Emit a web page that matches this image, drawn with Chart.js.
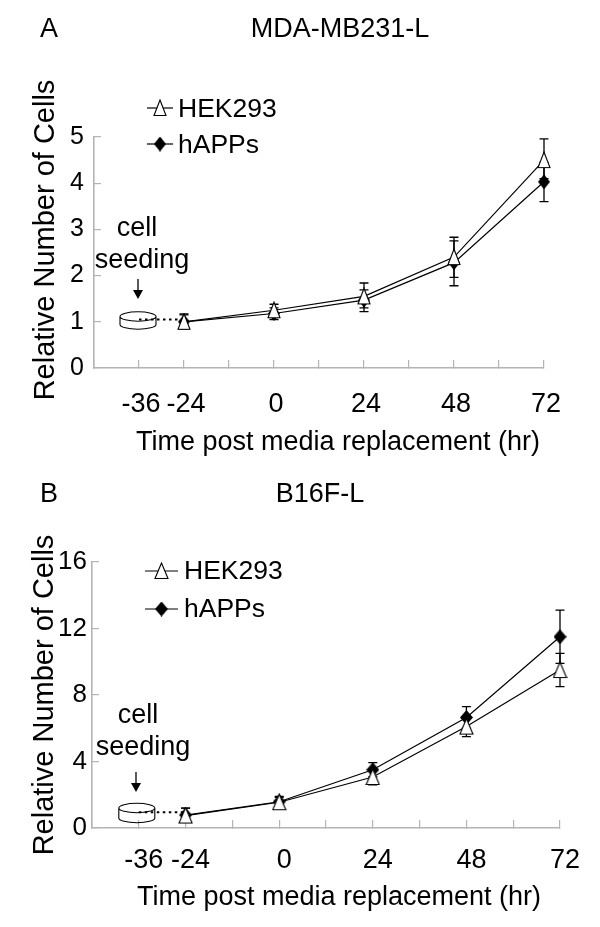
<!DOCTYPE html>
<html>
<head>
<meta charset="utf-8">
<title>Relative number of cells</title>
<script src="https://cdn.jsdelivr.net/npm/chart.js@4"></script>
<style>
  html, body { margin: 0; padding: 0; background: #fff; }
  canvas { position: absolute; left: 0; top: 0; }
</style>
</head>
<body>
<canvas id="chartA" width="600" height="927"></canvas>
<canvas id="chartB" width="600" height="927"></canvas>
<script>
const hours = [-24, 0, 24, 48, 72];
const seedHours = [-36, -24];
const xLabels = [-36, -24, 0, 24, 48, 72];

// Panel A
const hekA = [1.0, 1.25, 1.55, 2.4, 4.5];
const hekAHi = [1.17, 1.38, 1.84, 2.83, 4.96];
const hekALo = [0.85, 1.1, 1.3, 1.96, 4.1];
const happsA = [1.0, 1.18, 1.47, 2.28, 4.03];
const happsAHi = [1.15, 1.3, 1.69, 2.75, 4.45];
const happsALo = [0.87, 1.05, 1.22, 1.78, 3.6];
const seedA = [1.05, 1.05];

// Panel B
const hekB = [0.75, 1.55, 3.07, 6.1, 9.5];
const hekBHi = [1.2, 1.9, 3.55, 6.7, 10.5];
const hekBLo = [0.5, 1.25, 2.6, 5.5, 8.5];
const happsB = [0.78, 1.58, 3.5, 6.65, 11.5];
const happsBHi = [1.2, 1.85, 3.93, 7.3, 13.1];
const happsBLo = [0.5, 1.3, 3.07, 6.0, 9.9];
const seedB = [0.95, 0.95];

const FONT = '"Liberation Sans", Arial, sans-serif';

function triangleMark(w, h) {
  const c = document.createElement('canvas');
  c.width = w + 2; c.height = h + 2;
  const g = c.getContext('2d');
  g.beginPath();
  g.moveTo(c.width / 2, 1);
  g.lineTo(c.width - 1, h + 0.5);
  g.lineTo(1, h + 0.5);
  g.closePath();
  g.fillStyle = '#fff';
  g.fill();
  g.strokeStyle = '#000';
  g.lineWidth = 1.1;
  g.stroke();
  return c;
}

function diamondMark(w, h) {
  const c = document.createElement('canvas');
  c.width = w; c.height = h;
  const g = c.getContext('2d');
  g.beginPath();
  g.moveTo(w / 2, 0);
  g.lineTo(w, h / 2);
  g.lineTo(w / 2, h);
  g.lineTo(0, h / 2);
  g.closePath();
  g.fillStyle = '#000';
  g.fill();
  return c;
}

function toPoints(xs, ys) {
  return xs.map(function (x, i) { return { x: x, y: ys[i] }; });
}

// error bars are read from the arrays and placed with the chart scales
const errorBars = {
  id: 'errorBars',
  beforeDatasetsDraw(chart, args, opts) {
    const g = chart.ctx;
    g.save();
    g.strokeStyle = '#000';
    g.lineWidth = 1.3;
    opts.bars.forEach(function (bar) {
      hours.forEach(function (h, i) {
        const x = chart.scales.x.getPixelForValue(h);
        const top = chart.scales.y.getPixelForValue(bar.hi[i]);
        const bot = chart.scales.y.getPixelForValue(bar.lo[i]);
        g.beginPath();
        g.moveTo(x, top); g.lineTo(x, bot);
        g.moveTo(x - 4.5, top); g.lineTo(x + 4.5, top);
        g.moveTo(x - 4.5, bot); g.lineTo(x + 4.5, bot);
        g.stroke();
      });
    });
    g.restore();
  }
};

// dish, arrow, legend and the free text of each panel
const annotations = {
  id: 'annotations',
  afterDraw(chart, args, o) {
    const g = chart.ctx;
    g.save();
    g.fillStyle = '#000';
    g.strokeStyle = '#000';

    // dish
    const dx = chart.scales.x.getPixelForValue(-36) + o.dish.dx;
    const rx = 18, ry = 4.7;
    g.lineWidth = 1.1;
    g.beginPath();
    g.ellipse(dx, o.dish.top, rx, ry, 0, 0, Math.PI * 2);
    g.moveTo(dx - rx, o.dish.top);
    g.lineTo(dx - rx, o.dish.bottom);
    g.ellipse(dx, o.dish.bottom, rx, ry, 0, Math.PI, 0, true);
    g.lineTo(dx + rx, o.dish.top);
    g.stroke();

    // arrow
    g.lineWidth = 1.3;
    g.beginPath();
    g.moveTo(o.arrow.x, o.arrow.y1);
    g.lineTo(o.arrow.x, o.arrow.y2 - 8);
    g.stroke();
    g.beginPath();
    g.moveTo(o.arrow.x - 5, o.arrow.y2 - 9);
    g.lineTo(o.arrow.x + 5, o.arrow.y2 - 9);
    g.lineTo(o.arrow.x, o.arrow.y2);
    g.closePath();
    g.fill();

    // legend
    o.legend.forEach(function (it) {
      g.lineWidth = 1.2;
      g.beginPath();
      g.moveTo(it.x1, it.y);
      g.lineTo(it.x2, it.y);
      g.stroke();
      g.drawImage(it.mark, (it.x1 + it.x2) / 2 - it.mark.width / 2, it.y - it.mark.height / 2);
      g.font = o.legendFont + 'px ' + FONT;
      g.textAlign = 'left';
      g.textBaseline = 'alphabetic';
      g.fillText(it.text, it.tx, it.ty);
    });

    // text
    o.texts.forEach(function (t) {
      g.save();
      g.translate(t.x, t.y);
      if (t.rotate) g.rotate(-Math.PI / 2);
      g.font = t.size + 'px ' + FONT;
      g.textAlign = t.align || 'center';
      g.textBaseline = 'alphabetic';
      g.fillText(t.text, 0, 0);
      g.restore();
    });
    g.restore();
  }
};

function makePanel(id, p) {
  const triangle = triangleMark(p.triW, p.triH);
  const diamond = diamondMark(p.diaW, p.diaH);
  p.anno.legend[0].mark = triangle;
  p.anno.legend[1].mark = diamond;
  return new Chart(document.getElementById(id), {
    type: 'line',
    data: {
      datasets: [
        { label: 'HEK293', data: toPoints(hours, p.hek), borderColor: '#000', borderWidth: 1.2,
          pointStyle: triangle, tension: 0, clip: false },
        { label: 'hAPPs', data: toPoints(hours, p.happs), borderColor: '#000', borderWidth: 1.2,
          pointStyle: diamond, tension: 0, clip: false },
        { label: 'seeding', data: toPoints(seedHours, p.seed), borderColor: '#000', borderWidth: 2,
          borderDash: [2.5, 3.5], pointRadius: 0, tension: 0, clip: false }
      ]
    },
    options: {
      responsive: false,
      animation: false,
      layout: { padding: { left: 0, top: p.top, right: 600 - p.right, bottom: 927 - p.bottom - 60 } },
      plugins: {
        legend: { display: false },
        tooltip: { enabled: false },
        errorBars: { bars: [{ hi: p.hekHi, lo: p.hekLo }, { hi: p.happsHi, lo: p.happsLo }] },
        annotations: p.anno
      },
      scales: {
        x: {
          type: 'linear',
          min: -48,
          max: 72,
          afterFit(s) { s.height = 60; },
          afterBuildTicks(s) {
            s.ticks = [];
            for (let v = -48; v <= 72; v += 12) s.ticks.push({ value: v });
          },
          grid: { drawOnChartArea: false, tickLength: -8, color: '#b4b4b4', lineWidth: 1.2 },
          border: { color: '#b4b4b4', width: 1.6 },
          ticks: {
            padding: p.xPad,
            autoSkip: false,
            maxRotation: 0,
            labelOffset: p.xOff,
            color: '#000',
            font: { family: FONT, size: 27 },
            callback: function (v) { return xLabels.includes(v) ? String(v) : ''; }
          }
        },
        y: {
          min: 0,
          max: p.yMax,
          afterFit(s) { s.width = p.left; },
          grid: { drawOnChartArea: false, tickLength: -7, color: '#b4b4b4', lineWidth: 1.2 },
          border: { color: '#b4b4b4', width: 1.6 },
          ticks: {
            stepSize: p.yStep,
            padding: p.yPad,
            color: '#000',
            font: { family: FONT, size: p.yFont }
          }
        }
      }
    },
    plugins: [errorBars, annotations]
  });
}

makePanel('chartA', {
  hek: hekA, hekHi: hekAHi, hekLo: hekALo,
  happs: happsA, happsHi: happsAHi, happsLo: happsALo,
  seed: seedA,
  left: 94, right: 544, top: 137, bottom: 368,
  yMax: 5, yStep: 1,
  yFont: 25, xPad: 28, yPad: 17, xOff: 2,
  triW: 12, triH: 16, diaW: 12, diaH: 15,
  anno: {
    dish: { dx: -1, top: 316.5, bottom: 324.5 },
    arrow: { x: 138, y1: 279, y2: 299 },
    legendFont: 26.5,
    legend: [
      { text: 'HEK293', x1: 147, x2: 173, y: 108, tx: 178, ty: 117 },
      { text: 'hAPPs', x1: 147, x2: 173, y: 144, tx: 178, ty: 153 }
    ],
    texts: [
      { text: 'A', x: 49, y: 37, size: 27 },
      { text: 'MDA-MB231-L', x: 340, y: 37, size: 27 },
      { text: 'cell', x: 137, y: 236, size: 27 },
      { text: 'seeding', x: 142, y: 268, size: 27 },
      { text: 'Time post media replacement (hr)', x: 338, y: 450, size: 27 },
      { text: 'Relative Number of Cells', x: 54, y: 240, size: 29, rotate: true }
    ]
  }
});

makePanel('chartB', {
  hek: hekB, hekHi: hekBHi, hekLo: hekBLo,
  happs: happsB, happsHi: happsBHi, happsLo: happsBLo,
  seed: seedB,
  left: 92, right: 560, top: 562, bottom: 828,
  yMax: 16, yStep: 4,
  yFont: 26, xPad: 24, yPad: 12, xOff: 5,
  triW: 13, triH: 16, diaW: 13, diaH: 15,
  anno: {
    dish: { dx: -2, top: 808, bottom: 818 },
    arrow: { x: 136, y1: 772, y2: 792 },
    legendFont: 26.5,
    legend: [
      { text: 'HEK293', x1: 145, x2: 178, y: 571, tx: 184, ty: 579 },
      { text: 'hAPPs', x1: 145, x2: 178, y: 609, tx: 184, ty: 617 }
    ],
    texts: [
      { text: 'B', x: 49, y: 502, size: 27 },
      { text: 'B16F-L', x: 320, y: 502, size: 27 },
      { text: 'cell', x: 138, y: 723, size: 27 },
      { text: 'seeding', x: 143, y: 755, size: 27 },
      { text: 'Time post media replacement (hr)', x: 339, y: 905, size: 27 },
      { text: 'Relative Number of Cells', x: 53, y: 695, size: 29, rotate: true }
    ]
  }
});
</script>
</body>
</html>
